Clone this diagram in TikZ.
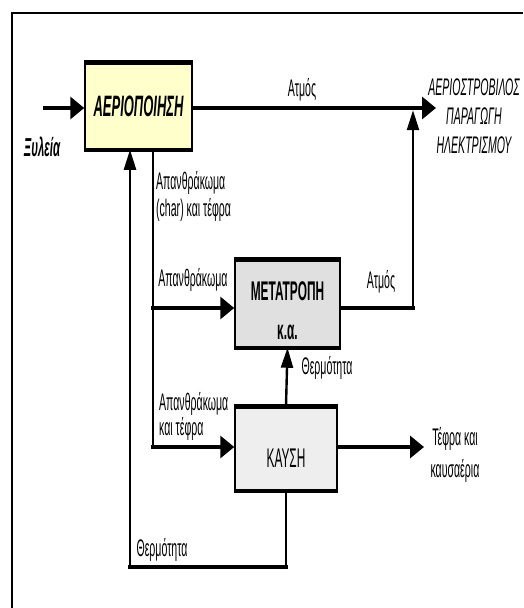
\documentclass[tikz,border=0pt]{standalone}
\usepackage{fontspec}
\setmainfont[FakeStretch=0.44]{Liberation Sans}
\usetikzlibrary{arrows.meta}
\definecolor{gasfill}{HTML}{FFFFCC}
\definecolor{metfill}{HTML}{E0E0E0}
\definecolor{kaffill}{HTML}{EEEEEE}
\begin{document}
\begin{tikzpicture}[x=1pt,y=-1pt,
  box/.style={draw, line width=1.5pt, inner sep=0pt},
  hbar/.style={line width=4.5pt},
  hflow/.style={line width=4.5pt, line cap=rect, -{Triangle[length=14pt,width=22pt]}},
  vflow/.style={line width=2.4pt, -{Triangle[length=20pt,width=12pt]}},
  hline/.style={line width=4.5pt, line cap=rect},
  vline/.style={line width=2.4pt},
  lbl/.style={font=\fontsize{24}{27}\selectfont, inner sep=0pt, anchor=base},
  mlbl/.style={inner sep=0pt},
]
\useasboundingbox (0,0) rectangle (523,608);
% frame
\draw[line width=2.5pt] (523,13) -- (11.5,13);
\draw[line width=2pt, line cap=rect] (11.5,13) -- (11.5,608);

% boxes
\node[box, fill=gasfill, minimum width=107pt, minimum height=86pt,
      font=\bfseries\itshape\fontsize{29.5}{32}\selectfont] (gas) at (138.5,106) {ΑΕΡΙΟΠΟΙΗΣΗ};
\draw[hbar] (gas.north west) -- (gas.north east);
\draw[hbar] (gas.south west) -- (gas.south east);

\node[box, fill=metfill, minimum width=105pt, minimum height=87pt,
      font=\bfseries\fontsize{27}{30}\selectfont, text height=0pt, text depth=5.7pt] (met) at (287.5,303.5) {ΜΕΤΑΤΡΟΠΗ};
\draw[hbar] (met.north west) -- (met.north east);
\draw[hbar] (met.south west) -- (met.south east);
\node[lbl, font=\bfseries\fontsize{27}{30}\selectfont] (metka) at (287.5,339) {κ.α.};

\node[box, fill=kaffill, minimum width=102pt, minimum height=83pt,
      font=\fontsize{27}{30}\selectfont, text height=38.3pt, text depth=0pt] (kaf) at (286,448.5) {ΚΑΥΣΗ};
\draw[hbar] (kaf.north west) -- (kaf.north east);
\draw[hbar] (kaf.south west) -- (kaf.south east);

% coordinates
\coordinate (src) at (45,108);
\coordinate (dst) at (436,108);
\coordinate (jn) at (413,110.2);
\coordinate (metout) at (413,308);
\coordinate (ch1) at (153,308);
\coordinate (ch2) at (153,447);
\coordinate (ash) at (424,447);
\coordinate (fbr) at (286,567);
\coordinate (fbl) at (130,567);

% connectors
\draw[hflow] (src) -- (src -| gas.west);
\draw[hflow] (gas.east |- dst) -- (dst);
\draw[hline] (met.east |- metout) -- (metout);
\draw[vflow] (metout) -- (jn);
\draw[vline] (gas.south -| ch2) -- (ch2);
\draw[hflow] (ch1) -- (ch1 -| met.west);
\draw[hflow] (ch2) -- (ch2 -| kaf.west);
\draw[vflow] (kaf.north) -- (met.south);
\draw[hflow] (kaf.east |- ash) -- (ash);
\draw[vline] (kaf.south) -- (fbr);
\draw[hline] (fbr) -- (fbl);
\draw[vflow] (fbl) -- (fbl |- gas.south);

% labels
\node[lbl] (steam1) at (302,96) {Ατμός};
\node[mlbl, anchor=north, align=center, font=\itshape\fontsize{24}{29}\selectfont] (tgt) at (474,79)
  {ΑΕΡΙΟΣΤΡΟΒΙΛΟΣ\\ΠΑΡΑΓΩΓΗ\\ΗΛΕΚΤΡΙΣΜΟΥ};
\node[lbl, font=\bfseries\itshape\fontsize{26}{27}\selectfont] (wood) at (42,156) {Ξυλεία};
\node[mlbl, anchor=north west, align=left, font=\fontsize{24}{27}\selectfont] (charlbl) at (156,171)
  {Απανθράκωμα\\(char) και τέφρα};
\node[lbl] (charlbl2) at (193,286) {Απανθράκωμα};
\node[lbl] (steam2) at (381,288) {Ατμός};
\node[lbl] (heat1) at (327,374) {Θερμότητα};
\node[mlbl, anchor=north west, align=left, font=\fontsize{24}{25}\selectfont] (charlbl3) at (159,392)
  {Απανθράκωμα\\και τέφρα};
\node[mlbl, anchor=north, align=center, font=\fontsize{24}{32}\selectfont] (ashlbl) at (455,427)
  {Τέφρα και\\καυσαέρια};
\node[lbl] (heat2) at (162,556) {Θερμότητα};
\end{tikzpicture}
\end{document}
